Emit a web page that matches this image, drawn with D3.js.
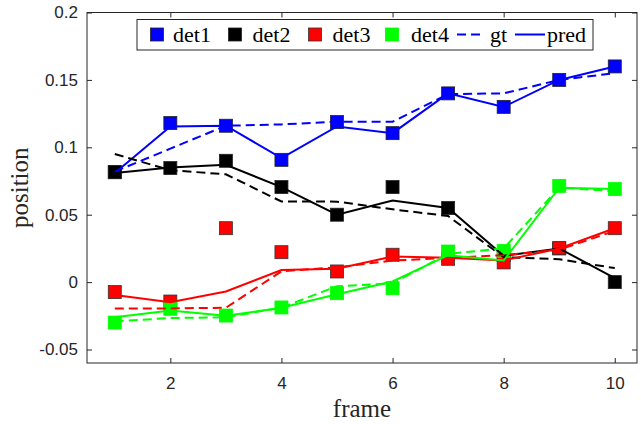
<!DOCTYPE html>
<html>
<head>
<meta charset="utf-8">
<script src="https://cdn.jsdelivr.net/npm/d3@7"></script>
<style>
  body { margin: 0; background: #fff; }
</style>
</head>
<body>
<div class="container"></div>
<script>
const frames = [1, 2, 3, 4, 5, 6, 7, 8, 9, 10];

const det1 = [0.0815, 0.118, 0.116, 0.0907, 0.1187, 0.1105, 0.140, 0.130, 0.150, 0.160];
const gt1 = [0.082, 0.099, 0.116, 0.117, 0.119, 0.119, 0.1395, 0.140, 0.150, 0.155];
const pred1 = [0.081, 0.1155, 0.116, 0.092, 0.1155, 0.1105, 0.140, 0.130, 0.150, 0.160];

const det2 = [0.0816, 0.0846, 0.090, 0.0705, 0.050, 0.0705, 0.055, 0.020, 0.025, 0.000];
const gt2 = [0.095, 0.083, 0.080, 0.0598, 0.0597, 0.054, 0.049, 0.0185, 0.017, 0.0104];
const pred2 = [0.081, 0.085, 0.087, 0.0705, 0.050, 0.0605, 0.055, 0.0195, 0.025, 0.003];

const det3 = [-0.0074, -0.0144, 0.040, 0.0222, 0.0079, 0.0203, 0.0173, 0.0146, 0.0252, 0.040];
const gt3 = [-0.0195, -0.0195, -0.019, 0.008, 0.011, 0.016, 0.018, 0.020, 0.024, 0.038];
const pred3 = [-0.0095, -0.015, -0.007, 0.009, 0.010, 0.019, 0.018, 0.016, 0.025, 0.040];

const det4 = [-0.030, -0.0198, -0.0248, -0.0188, -0.0082, -0.0045, 0.0227, 0.0232, 0.0714, 0.069];
const gt4 = [-0.029, -0.0267, -0.026, -0.019, -0.003, -0.001, 0.021, 0.025, 0.070, 0.0675];
const pred4 = [-0.026, -0.021, -0.025, -0.019, -0.009, 0.0005, 0.020, 0.016, 0.070, 0.069];

const colors = ["#0000ff", "#000000", "#ff0000", "#00ff00"];
const markerEdge = ["#222", "#222", "#333", "#00ff00"];
const dets = [det1, det2, det3, det4];
const gts = [gt1, gt2, gt3, gt4];
const preds = [pred1, pred2, pred3, pred4];

const xTicks = [2, 4, 6, 8, 10];
const yTicks = [-0.05, 0, 0.05, 0.1, 0.15, 0.2];
const legendNames = ["det1", "det2", "det3", "det4", "gt", "pred"];

const width = 641, height = 424;
const mLeft = 87, mRight = 637, mTop = 12.5, mBottom = 363;
const axisColor = "#262626";

const svg = d3.select(".container").append("svg")
  .attr("width", width).attr("height", height);

const x = d3.scaleLinear().domain([0.5, 10.4]).range([mLeft, mRight]);
const y = d3.scaleLinear().domain([-0.06, 0.2]).range([mBottom, mTop]);

// axes, ticks pointing inward like matlab
const tickFont = "'Liberation Sans', Arial, sans-serif";

const gx = svg.append("g").attr("transform", `translate(0,${mBottom})`)
  .call(d3.axisBottom(x).tickValues(xTicks).tickSize(-5).tickSizeOuter(0).tickPadding(14).tickFormat(d3.format("d")));
const gxTop = svg.append("g").attr("transform", `translate(0,${mTop})`)
  .call(d3.axisTop(x).tickValues(xTicks).tickSize(-5).tickSizeOuter(0).tickFormat(""));
const gy = svg.append("g").attr("transform", `translate(${mLeft},0)`)
  .call(d3.axisLeft(y).tickValues(yTicks).tickSize(-5).tickSizeOuter(0).tickPadding(9).tickFormat(d => d === 0 ? "0" : String(+d.toFixed(2))));
const gyRight = svg.append("g").attr("transform", `translate(${mRight},0)`)
  .call(d3.axisRight(y).tickValues(yTicks).tickSize(-5).tickSizeOuter(0).tickFormat(""));

[gx, gxTop, gy, gyRight].forEach(g => {
  g.select(".domain").remove();
  g.selectAll("line").attr("stroke", axisColor);
  g.selectAll("text").attr("fill", axisColor).style("font-family", tickFont).style("font-size", "17px");
});

svg.append("rect")
  .attr("x", mLeft).attr("y", mTop)
  .attr("width", mRight - mLeft).attr("height", mBottom - mTop)
  .attr("fill", "none").attr("stroke", axisColor).attr("stroke-width", 1);

// detections first
const msize = 13;
dets.forEach((d, k) => {
  svg.append("g").selectAll("rect")
    .data(frames.map((f, i) => ({ f: f, v: d[i] })))
    .join("rect")
    .attr("x", p => x(p.f) - msize / 2)
    .attr("y", p => y(p.v) - msize / 2)
    .attr("width", msize).attr("height", msize)
    .attr("fill", colors[k])
    .attr("stroke", markerEdge[k])
    .attr("stroke-width", 0.8);
});

const line = d3.line().x((v, i) => x(frames[i])).y(v => y(v));

for (let k = 0; k < 4; k++) {
  svg.append("path").datum(gts[k])
    .attr("d", line)
    .attr("fill", "none").attr("stroke", colors[k])
    .attr("stroke-width", 2).attr("stroke-dasharray", "9,5");
  svg.append("path").datum(preds[k])
    .attr("d", line)
    .attr("fill", "none").attr("stroke", colors[k])
    .attr("stroke-width", 2);
}

// legend
const serif = "'Liberation Serif', 'Times New Roman', serif";
const leg = svg.append("g");
leg.append("rect")
  .attr("x", 137).attr("y", 19.5).attr("width", 456).attr("height", 30.5)
  .attr("fill", "#fff").attr("stroke", axisColor).attr("stroke-width", 1);

const legSquares = [157, 235, 315, 392];
const legText = [173, 252.5, 332.5, 411, 490, 547];
const ly = 34.5;
legSquares.forEach((cx, k) => {
  leg.append("rect")
    .attr("x", cx - 6.5).attr("y", ly - 6.5)
    .attr("width", 13).attr("height", 13)
    .attr("fill", colors[k]).attr("stroke", markerEdge[k]).attr("stroke-width", 0.8);
});
leg.append("line")
  .attr("x1", 457).attr("x2", 482).attr("y1", ly).attr("y2", ly)
  .attr("stroke", colors[0]).attr("stroke-width", 2).attr("stroke-dasharray", "9,5");
leg.append("line")
  .attr("x1", 515).attr("x2", 545).attr("y1", ly).attr("y2", ly)
  .attr("stroke", colors[0]).attr("stroke-width", 2);
leg.selectAll("text.lg")
  .data(legendNames)
  .join("text")
  .attr("class", "lg")
  .attr("x", (d, i) => legText[i])
  .attr("y", 42)
  .style("font-family", serif).style("font-size", "22px")
  .attr("fill", "#000")
  .text(d => d);

// axis labels
svg.append("text")
  .attr("x", (mLeft + mRight) / 2).attr("y", 417)
  .attr("text-anchor", "middle")
  .style("font-family", serif).style("font-size", "25px")
  .attr("fill", axisColor)
  .text("frame");

svg.append("text")
  .attr("transform", `translate(28,${(mTop + mBottom) / 2}) rotate(-90)`)
  .attr("text-anchor", "middle")
  .style("font-family", serif).style("font-size", "25px")
  .attr("fill", axisColor)
  .text("position");
</script>
</body>
</html>
